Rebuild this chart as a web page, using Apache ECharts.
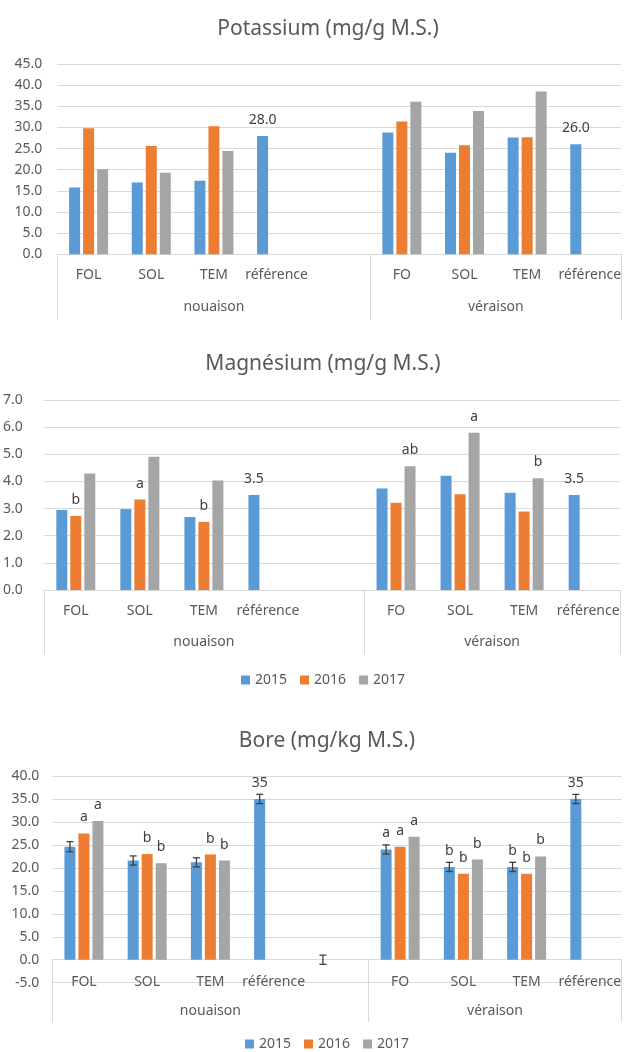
<!DOCTYPE html>
<html>
<head>
<meta charset="utf-8">
<script src="https://cdn.jsdelivr.net/npm/echarts@6/dist/echarts.min.js"></script>
<style>
html,body{margin:0;padding:0;background:#fff;}
#c{width:624px;height:1052px;}
</style>
</head>
<body>
<div id="c"></div>
<script>
// ---------- data ----------
const categories = ['FOL', 'SOL', 'TEM', 'référence', '', 'FO', 'SOL', 'TEM', 'référence'];
const groups = ['nouaison', 'véraison'];
const groupSpans = [5, 4];
const years = ['2015', '2016', '2017'];

// Potassium (mg/g M.S.)
const k2015 = [15.8, 17.0, 17.4, 28.0, null, 28.8, 24.0, 27.6, 26.0];
const k2016 = [29.8, 25.6, 30.3, null, null, 31.4, 25.8, 27.7, null];
const k2017 = [20.1, 19.3, 24.4, null, null, 36.1, 33.9, 38.5, null];
const kLabels2015 = ['', '', '', '28.0', '', '', '', '', '26.0'];
const kTicks = [0, 45, 5];

// Magnésium (mg/g M.S.)
const mg2015 = [2.95, 2.98, 2.69, 3.5, null, 3.74, 4.21, 3.58, 3.5];
const mg2016 = [2.73, 3.33, 2.51, null, null, 3.21, 3.53, 2.89, null];
const mg2017 = [4.29, 4.91, 4.03, null, null, 4.56, 5.79, 4.12, null];
const mgLabels2015 = ['', '', '', '3.5', '', '', '', '', '3.5'];
const mgLabels2016 = ['b', 'a', 'b', '', '', '', '', '', ''];
const mgLabels2017 = ['', '', '', '', '', 'ab', 'a', 'b', ''];
const mgTicks = [0, 7, 1];

// Bore (mg/kg M.S.)
const b2015 = [24.6, 21.6, 21.2, 35.0, 0, 24.0, 20.2, 20.2, 35.0];
const b2016 = [27.5, 23.0, 22.9, null, null, 24.6, 18.7, 18.7, null];
const b2017 = [30.2, 21.0, 21.6, null, null, 26.8, 21.8, 22.5, null];
const bErr2015 = [1.1, 1.0, 1.0, 1.0, 1.0, 1.0, 1.0, 1.0, 1.0];
const bLabels2015 = ['', '', '', '35', '', 'a', 'b', 'b', '35'];
const bLabels2016 = ['a', 'b', 'b', '', '', 'a', 'b', 'b', ''];
const bLabels2017 = ['a', 'b', 'b', '', '', 'a', 'b', 'b', ''];
const bTicks = [-5, 40, 5];

const titles = ['Potassium (mg/g M.S.)', 'Magnésium (mg/g M.S.)', 'Bore (mg/kg M.S.)'];

// ---------- styles ----------
const COLORS = ['#5b9bd5', '#ed7d31', '#a5a5a5'];
const FONT = 'Noto Sans';
const TXT = '#595959';
const LBL = '#404040';
const GRIDC = '#d9d9d9';
const BAR_W = 11;
const BAR_GAP_PX = 3;

const layouts = [
  { left: 57.3, top: 64, width: 567, height: 190.3, yMargin: 15, catMargin: 14, grpMargin: 46, tickLen: 65, titleTop: 14, titleX: 323 },
  { left: 41.7, top: 400, width: 578.5, height: 190, yMargin: 21, catMargin: 14, grpMargin: 45, tickLen: 64, titleTop: 349, titleX: 318 },
  { left: 52.3, top: 776, width: 573.3, height: 206.7, yMargin: 13, catMargin: 15, grpMargin: 44, tickLen: 62, titleTop: 726, titleX: 322 }
];

// group boundaries & centers (in category units)
const bounds = [0];
groupSpans.forEach(s => bounds.push(bounds[bounds.length - 1] + s));
const centers = groupSpans.map((s, i) => bounds[i] + s / 2);

function items(values, labels) {
  return values.map((v, i) => (labels && labels[i]) ?
    { value: v, label: { show: true, formatter: labels[i] } } : v);
}

const charts = [
  { ticks: kTicks, data: [k2015, k2016, k2017], labels: [kLabels2015, null, null] },
  { ticks: mgTicks, data: [mg2015, mg2016, mg2017], labels: [mgLabels2015, mgLabels2016, mgLabels2017] },
  { ticks: bTicks, data: [b2015, b2016, b2017], labels: [bLabels2015, bLabels2016, bLabels2017] }
];

const legendBase = { data: years, icon: 'rect', itemWidth: 9, itemHeight: 9, itemGap: 13, padding: 0,
  textStyle: { color: TXT, fontSize: 14, fontFamily: FONT } };

const option = {
  animation: false,
  textStyle: { fontFamily: FONT },
  color: COLORS,
  title: [], grid: [], xAxis: [], yAxis: [], series: [],
  legend: [
    Object.assign({ top: 673, left: 241 }, legendBase),
    Object.assign({ top: 1037, left: 245 }, legendBase)
  ]
};

charts.forEach((c, gi) => {
  const L = layouts[gi];
  // the category axis crosses the value axis at 0 (like the original): shift it up from the grid bottom
  const zeroOffset = -(0 - c.ticks[0]) / (c.ticks[1] - c.ticks[0]) * L.height;
  option.title.push({
    text: titles[gi], left: L.titleX, top: L.titleTop, textAlign: 'center',
    textStyle: { color: TXT, fontSize: 21, fontWeight: 'normal', fontFamily: FONT }
  });
  option.grid.push({ left: L.left, top: L.top, width: L.width, height: L.height, containLabel: false });
  option.yAxis.push({
    type: 'value', gridIndex: gi, min: c.ticks[0], max: c.ticks[1], interval: c.ticks[2],
    axisLine: { show: false }, axisTick: { show: false },
    axisLabel: { color: TXT, fontSize: 14, margin: L.yMargin, formatter: v => v.toFixed(1) },
    splitLine: { lineStyle: { color: GRIDC, width: 1 } }
  });
  option.xAxis.push({
    type: 'category', gridIndex: gi, data: categories, position: 'bottom', offset: zeroOffset,
    axisLine: { onZero: false, lineStyle: { color: GRIDC, width: 1 } },
    axisTick: { show: false },
    axisLabel: { color: TXT, fontSize: 14, margin: L.catMargin, interval: 0 }
  });
  option.xAxis.push({
    type: 'value', gridIndex: gi, min: 0, max: bounds[bounds.length - 1], position: 'bottom', offset: zeroOffset,
    axisLine: { show: false, onZero: false },
    axisTick: { show: true, customValues: bounds, length: L.tickLen, lineStyle: { color: GRIDC, width: 1 } },
    axisLabel: { show: true, customValues: centers, color: TXT, fontSize: 14, margin: L.grpMargin,
      formatter: v => { const k = centers.indexOf(v); return k >= 0 ? groups[k] : ''; } },
    splitLine: { show: false }
  });
  c.data.forEach((vals, si) => {
    option.series.push({
      type: 'bar', name: years[si], xAxisIndex: gi * 2, yAxisIndex: gi,
      barWidth: BAR_W, barGap: (BAR_GAP_PX / BAR_W * 100) + '%',
      itemStyle: { color: COLORS[si] },
      label: { show: false, position: 'top', distance: 9, color: LBL, fontSize: 14, fontFamily: FONT },
      data: items(vals, c.labels[si])
    });
  });
});

// error bars on the 2015 series of the Bore chart
option.series.push({
  type: 'custom', name: 'erreur', xAxisIndex: 4, yAxisIndex: 2, z: 5,
  encode: { x: 0, y: 1 },
  data: b2015.map((v, i) => [i, v, bErr2015[i]]),
  renderItem: function (params, api) {
    const i = api.value(0), v = api.value(1), e = api.value(2);
    const hi = api.coord([i, v + e]);
    const lo = api.coord([i, v - e]);
    const x = hi[0] - (BAR_W + BAR_GAP_PX);
    const cap = 3.5;
    const style = { stroke: '#404040', lineWidth: 1.3 };
    return {
      type: 'group',
      children: [
        { type: 'line', shape: { x1: x, y1: hi[1], x2: x, y2: lo[1] }, style },
        { type: 'line', shape: { x1: x - cap, y1: hi[1], x2: x + cap, y2: hi[1] }, style },
        { type: 'line', shape: { x1: x - cap, y1: lo[1], x2: x + cap, y2: lo[1] }, style }
      ]
    };
  }
});

const chart = echarts.init(document.getElementById('c'), null, { renderer: 'canvas' });
chart.setOption(option);
</script>
</body>
</html>
